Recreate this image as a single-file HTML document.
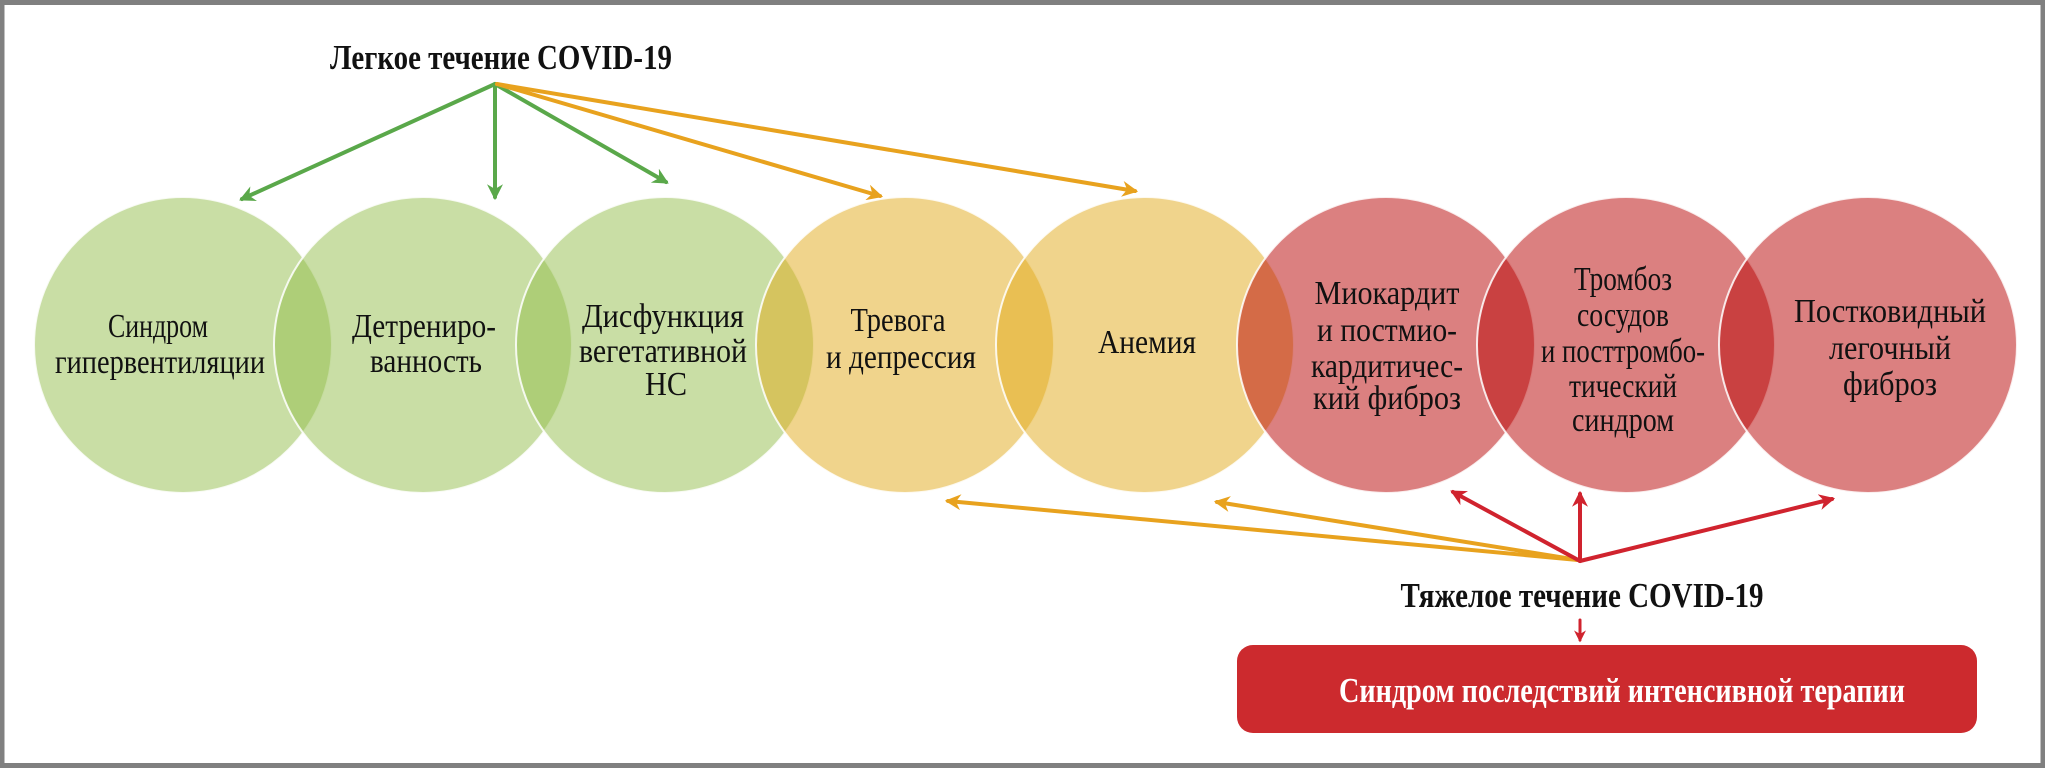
<!DOCTYPE html>
<html><head><meta charset="utf-8"><style>
html,body{margin:0;padding:0;background:#fff;}
svg{display:block;}
text{font-family:"Liberation Serif",serif;fill:#111;}
</style></head><body>
<svg width="2045" height="768" viewBox="0 0 2045 768" xmlns="http://www.w3.org/2000/svg">
<defs>
<marker id="ag" viewBox="0 0 10 10" refX="8" refY="5" markerWidth="4" markerHeight="4" orient="auto"><path d="M0,0 L10,5 L0,10 L3,5 z" fill="#5aa84a"/></marker>
<marker id="ao" viewBox="0 0 10 10" refX="8" refY="5" markerWidth="4" markerHeight="4" orient="auto"><path d="M0,0 L10,5 L0,10 L3,5 z" fill="#e8a21e"/></marker>
<marker id="ar" viewBox="0 0 10 10" refX="8" refY="5" markerWidth="4" markerHeight="4" orient="auto"><path d="M0,0 L10,5 L0,10 L3,5 z" fill="#d0232e"/></marker>
</defs>
<rect x="2" y="2.5" width="2041" height="763" fill="#fff" stroke="#808080" stroke-width="5"/>
<g stroke="#fff" stroke-width="2" stroke-opacity="0.85">
<ellipse cx="183" cy="345" rx="149" ry="148" fill="rgb(147,189,75)" fill-opacity="0.5"/>
<ellipse cx="423" cy="345" rx="149" ry="148" fill="rgb(147,189,75)" fill-opacity="0.5"/>
<ellipse cx="665" cy="345" rx="149" ry="148" fill="rgb(147,189,75)" fill-opacity="0.5"/>
<ellipse cx="905" cy="345" rx="149" ry="148" fill="rgb(225,169,25)" fill-opacity="0.5"/>
<ellipse cx="1145" cy="345" rx="149" ry="148" fill="rgb(225,169,25)" fill-opacity="0.5"/>
<ellipse cx="1386" cy="345" rx="149" ry="148" fill="rgb(183,1,1)" fill-opacity="0.5"/>
<ellipse cx="1626" cy="345" rx="149" ry="148" fill="rgb(183,1,1)" fill-opacity="0.5"/>
<ellipse cx="1868" cy="345" rx="149" ry="148" fill="rgb(183,1,1)" fill-opacity="0.5"/>
</g>
<g font-size="34" text-anchor="middle" lengthAdjust="spacingAndGlyphs">
<text x="158" y="337" textLength="100" lengthAdjust="spacingAndGlyphs">Синдром</text>
<text x="160" y="373" textLength="210" lengthAdjust="spacingAndGlyphs">гипервентиляции</text>
<text x="424" y="337" textLength="144" lengthAdjust="spacingAndGlyphs">Детрениро-</text>
<text x="426" y="372" textLength="112" lengthAdjust="spacingAndGlyphs">ванность</text>
<text x="663" y="327" textLength="162" lengthAdjust="spacingAndGlyphs">Дисфункция</text>
<text x="663" y="362" textLength="168" lengthAdjust="spacingAndGlyphs">вегетативной</text>
<text x="666" y="395" textLength="42" lengthAdjust="spacingAndGlyphs">НС</text>
<text x="898" y="331" textLength="95" lengthAdjust="spacingAndGlyphs">Тревога</text>
<text x="901" y="368" textLength="150" lengthAdjust="spacingAndGlyphs">и депрессия</text>
<text x="1147" y="353" textLength="98" lengthAdjust="spacingAndGlyphs">Анемия</text>
<text x="1387" y="304" textLength="145" lengthAdjust="spacingAndGlyphs">Миокардит</text>
<text x="1387" y="341" textLength="140" lengthAdjust="spacingAndGlyphs">и постмио-</text>
<text x="1387" y="377" textLength="152" lengthAdjust="spacingAndGlyphs">кардитичес-</text>
<text x="1387" y="409" textLength="148" lengthAdjust="spacingAndGlyphs">кий фиброз</text>
<text x="1623" y="290" textLength="98" lengthAdjust="spacingAndGlyphs">Тромбоз</text>
<text x="1623" y="326" textLength="92" lengthAdjust="spacingAndGlyphs">сосудов</text>
<text x="1623" y="362" textLength="164" lengthAdjust="spacingAndGlyphs">и посттромбо-</text>
<text x="1623" y="397" textLength="108" lengthAdjust="spacingAndGlyphs">тический</text>
<text x="1623" y="431" textLength="102" lengthAdjust="spacingAndGlyphs">синдром</text>
<text x="1890" y="322" textLength="192" lengthAdjust="spacingAndGlyphs">Постковидный</text>
<text x="1890" y="359" textLength="122" lengthAdjust="spacingAndGlyphs">легочный</text>
<text x="1890" y="395" textLength="94" lengthAdjust="spacingAndGlyphs">фиброз</text>
</g>
<g font-size="35" font-weight="bold" text-anchor="middle">
<text x="501" y="69" textLength="342" lengthAdjust="spacingAndGlyphs">Легкое течение COVID-19</text>
<text x="1582" y="607" textLength="363" lengthAdjust="spacingAndGlyphs">Тяжелое течение COVID-19</text>
</g>
<g stroke-width="4" fill="none" stroke-linecap="round">
<line x1="495" y1="84" x2="242" y2="199" stroke="#5aa84a" marker-end="url(#ag)"/>
<line x1="495" y1="84" x2="495" y2="197" stroke="#5aa84a" marker-end="url(#ag)"/>
<line x1="495" y1="84" x2="666" y2="182" stroke="#5aa84a" marker-end="url(#ag)"/>
<line x1="497" y1="84" x2="880" y2="196" stroke="#e8a21e" marker-end="url(#ao)"/>
<line x1="497" y1="84" x2="1135" y2="191" stroke="#e8a21e" marker-end="url(#ao)"/>
<line x1="1578" y1="560" x2="948" y2="501" stroke="#e8a21e" marker-end="url(#ao)"/>
<line x1="1578" y1="560" x2="1217" y2="502" stroke="#e8a21e" marker-end="url(#ao)"/>
<line x1="1580" y1="561" x2="1453" y2="492" stroke="#d0232e" marker-end="url(#ar)"/>
<line x1="1580" y1="561" x2="1580" y2="494" stroke="#d0232e" marker-end="url(#ar)"/>
<line x1="1580" y1="561" x2="1832" y2="499" stroke="#d0232e" marker-end="url(#ar)"/>
<line x1="1580" y1="620" x2="1580" y2="640" stroke="#d0232e" stroke-width="3" marker-end="url(#ar)"/>
</g>
<rect x="1237" y="645" width="740" height="88" rx="16" fill="#cc2a2e"/>
<text x="1622" y="702" font-size="35" font-weight="bold" text-anchor="middle" textLength="566" lengthAdjust="spacingAndGlyphs" style="fill:#fff">Синдром последствий интенсивной терапии</text>
</svg>
</body></html>
